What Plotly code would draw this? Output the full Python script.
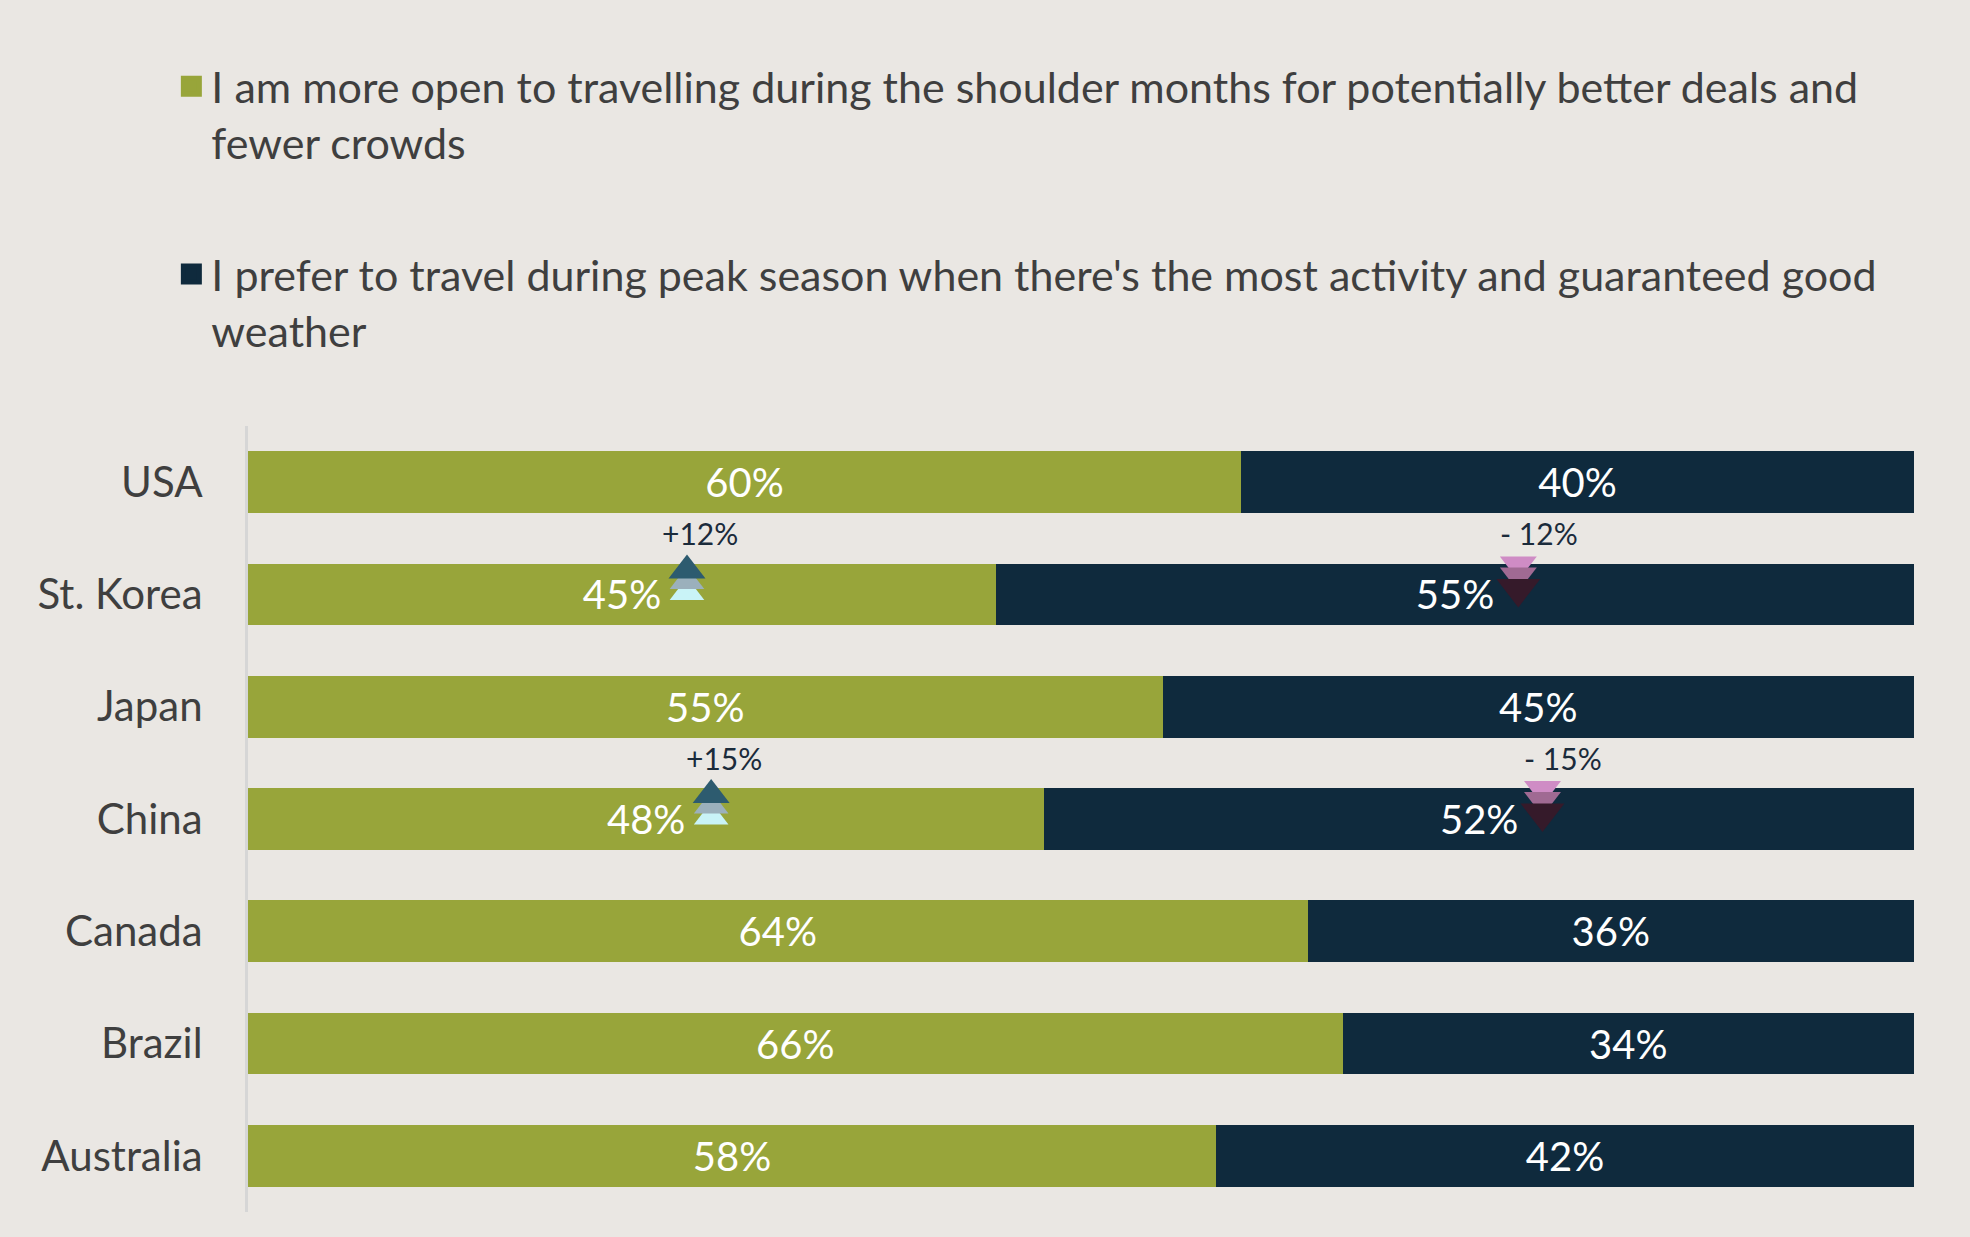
import plotly.graph_objects as go

# ---- data ----
countries = ["USA", "St. Korea", "Japan", "China", "Canada", "Brazil", "Australia"]
open_share = [59.6, 44.9, 54.9, 47.8, 63.6, 65.7, 58.1]
peak_share = [40.4, 55.1, 45.1, 52.2, 36.4, 34.3, 41.9]
open_labels = ["60%", "45%", "55%", "48%", "64%", "66%", "58%"]
peak_labels = ["40%", "55%", "45%", "52%", "36%", "34%", "42%"]
change_countries = ["St. Korea", "China"]
change_values = [12, 15]

series_names = [
    "I am more open to travelling during the shoulder months for potentially better deals and<br>fewer crowds",
    "I prefer to travel during peak season when there's the most activity and guaranteed good<br>weather",
]

# ---- styles ----
BG = "#eae7e3"
GREEN = "#98a53a"
NAVY = "#0f2a3d"
TEXT = "#3f3f3f"
FONT = "Lato"

ypos = list(range(len(countries)))

fig = go.Figure()
for vals, labels, col, grp in [(open_share, open_labels, GREEN, "a"),
                               (peak_share, peak_labels, NAVY, "b")]:
    fig.add_trace(go.Bar(
        y=ypos, x=vals, orientation="h", name=series_names[0 if grp == "a" else 1],
        marker=dict(color=col, line=dict(width=0)), width=0.55,
        text=labels, textposition="inside", insidetextanchor="middle",
        textfont=dict(color="white", size=40, family=FONT),
        legendgroup=grp, showlegend=False,
    ))

# legend entries (square markers so the key can be drawn larger)
for name, col, grp in [(series_names[0], GREEN, "a"), (series_names[1], NAVY, "b")]:
    fig.add_trace(go.Scatter(
        x=[None], y=[None], mode="markers", name=name, legendgroup=grp,
        marker=dict(symbol="square", size=16, color=col, line=dict(width=5, color=col)),
        showlegend=True, hoverinfo="skip",
    ))

# change markers
idx = [countries.index(c) for c in change_countries]
up_x = [open_share[i] / 2 + 3.9 for i in idx]
down_x = [open_share[i] + peak_share[i] / 2 + 3.8 for i in idx]

up_layers = [("#c9f3f7", 30, -0.018), ("#9bb0bc", 30, -0.116), ("#2d5b6f", 32, -0.214)]
for col, sz, dy in up_layers:
    fig.add_trace(go.Scatter(
        x=up_x, y=[i + dy for i in idx], mode="markers",
        marker=dict(symbol="triangle-up", size=sz, color=col, line=dict(width=0)),
        showlegend=False, hoverinfo="skip",
    ))
down_layers = [("#cf8cc5", 32, -0.267), ("#a06a93", 32, -0.169), ("#351a2a", 38, -0.053)]
for col, sz, dy in down_layers:
    fig.add_trace(go.Scatter(
        x=down_x, y=[i + dy for i in idx], mode="markers",
        marker=dict(symbol="triangle-down", size=sz, color=col, line=dict(width=0)),
        showlegend=False, hoverinfo="skip",
    ))

annotations = []
for k, i in enumerate(idx):
    v = change_values[k]
    annotations.append(dict(x=up_x[k], y=i, xref="x", yref="y", text=f"+{v}%",
                            showarrow=False, xshift=13, yshift=61,
                            font=dict(size=30, color="#1b2b3b", family=FONT)))
    annotations.append(dict(x=down_x[k], y=i, xref="x", yref="y", text=f"- {v}%",
                            showarrow=False, xshift=21, yshift=61,
                            font=dict(size=30, color="#1b2b3b", family=FONT)))

fig.update_layout(
    width=1970, height=1237,
    barmode="stack",
    paper_bgcolor=BG, plot_bgcolor=BG,
    margin=dict(l=248, r=56, t=426, b=25, pad=0),
    font=dict(family=FONT, color=TEXT),
    showlegend=True,
    legend=dict(
        x=-0.046, y=1.476, xanchor="left", yanchor="top",
        orientation="v", traceorder="grouped", valign="top",
        font=dict(size=43, color=TEXT, family=FONT), itemsizing="trace",
        bgcolor="rgba(0,0,0,0)", itemwidth=30, tracegroupgap=73,
    ),
    xaxis=dict(range=[0, 100], showgrid=False, zeroline=False, showticklabels=False,
               showline=False, fixedrange=True),
    yaxis=dict(range=[6.5, -0.5], tickvals=ypos, ticktext=countries,
               showgrid=False, zeroline=False, showline=True, linecolor="#d6d6d6",
               linewidth=3, ticks="", ticklabelstandoff=34,
               tickfont=dict(size=42, color=TEXT, family=FONT), layer="below traces"),
    annotations=annotations,
)

fig.write_html("out.html")
